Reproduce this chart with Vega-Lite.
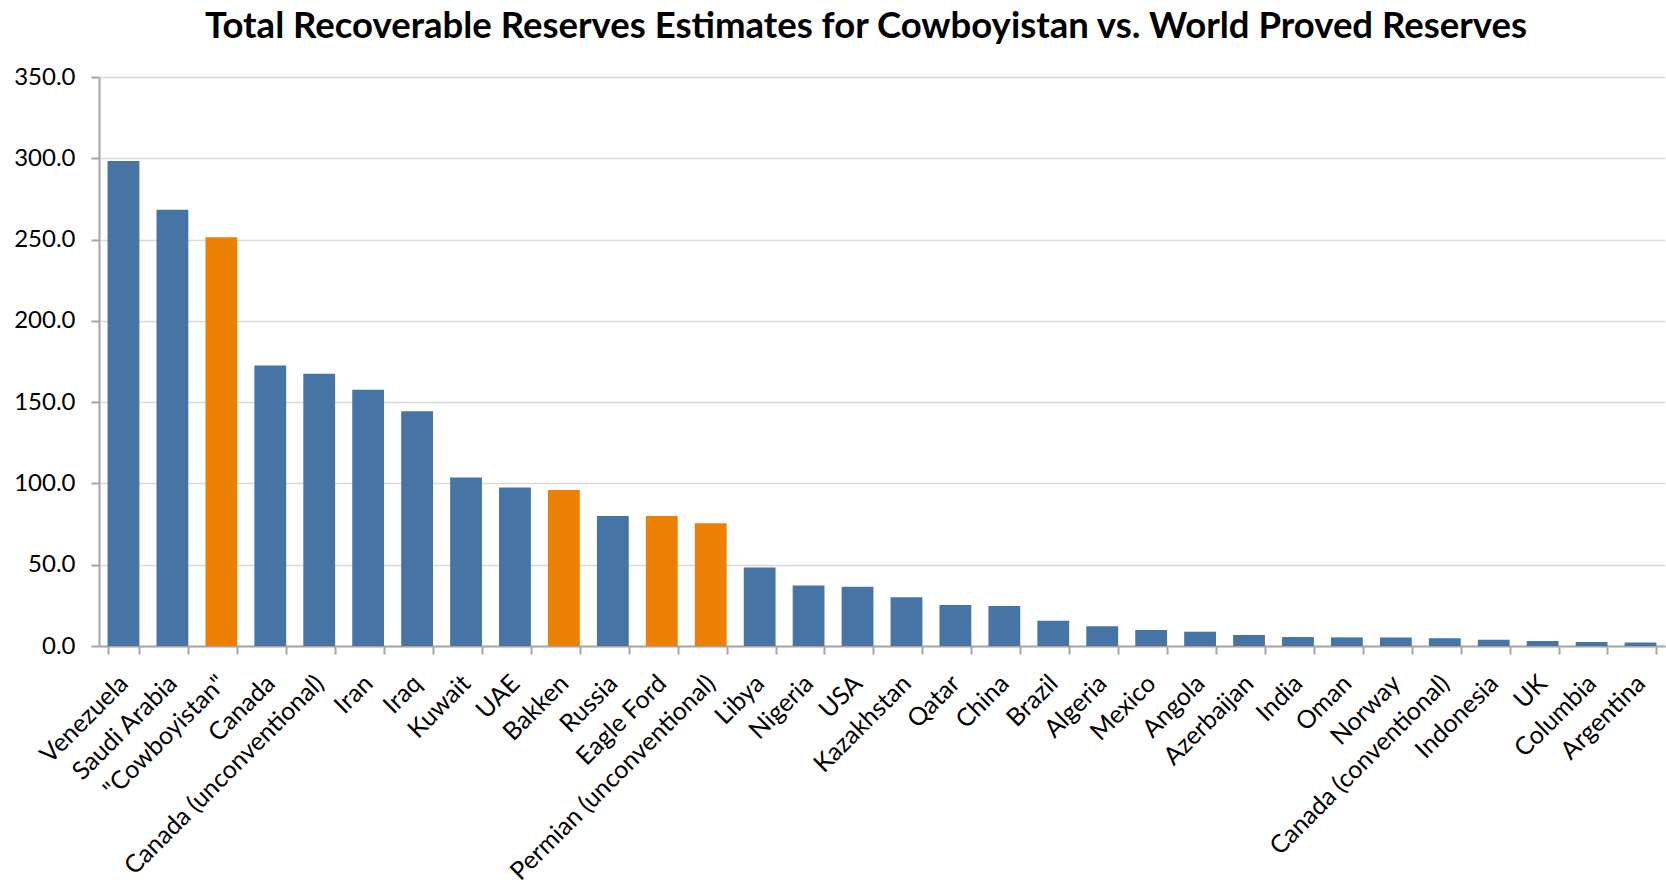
{
  "$schema": "https://vega.github.io/schema/vega-lite/v6.json",
  "autosize": "none",
  "width": 1566,
  "height": 569,
  "padding": {"left": 99, "top": 77, "right": 1, "bottom": 238},
  "background": "white",
  "title": {
    "text": "Total Recoverable Reserves Estimates for Cowboyistan vs. World Proved Reserves",
    "font": "Lato",
    "fontSize": 36.5,
    "fontWeight": "bold",
    "color": "black",
    "anchor": "middle",
    "offset": 20,
    "dx": -16
  },
  "data": {
    "values": [
      {"country": "Venezuela", "reserves": 298.3, "group": "World"},
      {"country": "Saudi Arabia", "reserves": 268.4, "group": "World"},
      {"country": "\"Cowboyistan\"", "reserves": 251.5, "group": "Cowboyistan"},
      {"country": "Canada", "reserves": 172.5, "group": "World"},
      {"country": "Canada (unconventional)", "reserves": 167.5, "group": "World"},
      {"country": "Iran", "reserves": 157.6, "group": "World"},
      {"country": "Iraq", "reserves": 144.4, "group": "World"},
      {"country": "Kuwait", "reserves": 103.7, "group": "World"},
      {"country": "UAE", "reserves": 97.5, "group": "World"},
      {"country": "Bakken", "reserves": 95.9, "group": "Cowboyistan"},
      {"country": "Russia", "reserves": 80.0, "group": "World"},
      {"country": "Eagle Ford", "reserves": 80.0, "group": "Cowboyistan"},
      {"country": "Permian (unconventional)", "reserves": 75.5, "group": "Cowboyistan"},
      {"country": "Libya", "reserves": 48.3, "group": "World"},
      {"country": "Nigeria", "reserves": 37.2, "group": "World"},
      {"country": "USA", "reserves": 36.5, "group": "World"},
      {"country": "Kazakhstan", "reserves": 30.0, "group": "World"},
      {"country": "Qatar", "reserves": 25.2, "group": "World"},
      {"country": "China", "reserves": 24.6, "group": "World"},
      {"country": "Brazil", "reserves": 15.5, "group": "World"},
      {"country": "Algeria", "reserves": 12.2, "group": "World"},
      {"country": "Mexico", "reserves": 9.8, "group": "World"},
      {"country": "Angola", "reserves": 8.8, "group": "World"},
      {"country": "Azerbaijan", "reserves": 6.8, "group": "World"},
      {"country": "India", "reserves": 5.5, "group": "World"},
      {"country": "Oman", "reserves": 5.3, "group": "World"},
      {"country": "Norway", "reserves": 5.3, "group": "World"},
      {"country": "Canada (conventional)", "reserves": 4.7, "group": "World"},
      {"country": "Indonesia", "reserves": 3.8, "group": "World"},
      {"country": "UK", "reserves": 3.0, "group": "World"},
      {"country": "Columbia", "reserves": 2.4, "group": "World"},
      {"country": "Argentina", "reserves": 2.2, "group": "World"}
    ]
  },
  "mark": {"type": "bar"},
  "encoding": {
    "x": {
      "field": "country",
      "type": "nominal",
      "sort": null,
      "scale": {"paddingInner": 0.35, "paddingOuter": 0.175},
      "axis": {
        "title": null,
        "labelAngle": -45,
        "labelAlign": "right",
        "labelBaseline": "middle",
        "labelFont": "Lato",
        "labelFontSize": 25,
        "labelColor": "black",
        "labelPadding": 25,
        "labelOverlap": false,
        "labelLimit": 0,
        "tickBand": "extent",
        "tickSize": 8,
        "tickColor": "#A6A6A6",
        "tickWidth": 2,
        "domainColor": "#A6A6A6",
        "domainWidth": 2,
        "grid": false
      }
    },
    "y": {
      "field": "reserves",
      "type": "quantitative",
      "scale": {"domain": [0, 350], "nice": false},
      "axis": {
        "title": null,
        "values": [0, 50, 100, 150, 200, 250, 300, 350],
        "format": ".1f",
        "labelFont": "Lato",
        "labelFontSize": 24,
        "labelColor": "black",
        "labelPadding": 16,
        "tickSize": 8,
        "tickColor": "#A6A6A6",
        "tickWidth": 2,
        "domainColor": "#A6A6A6",
        "domainWidth": 2,
        "grid": true,
        "gridColor": "#D9D9D9",
        "gridWidth": 1.5
      }
    },
    "color": {
      "field": "group",
      "type": "nominal",
      "scale": {"domain": ["World", "Cowboyistan"], "range": ["#4674A4", "#EC8004"]},
      "legend": null
    }
  },
  "config": {
    "view": {"stroke": null}
  }
}
